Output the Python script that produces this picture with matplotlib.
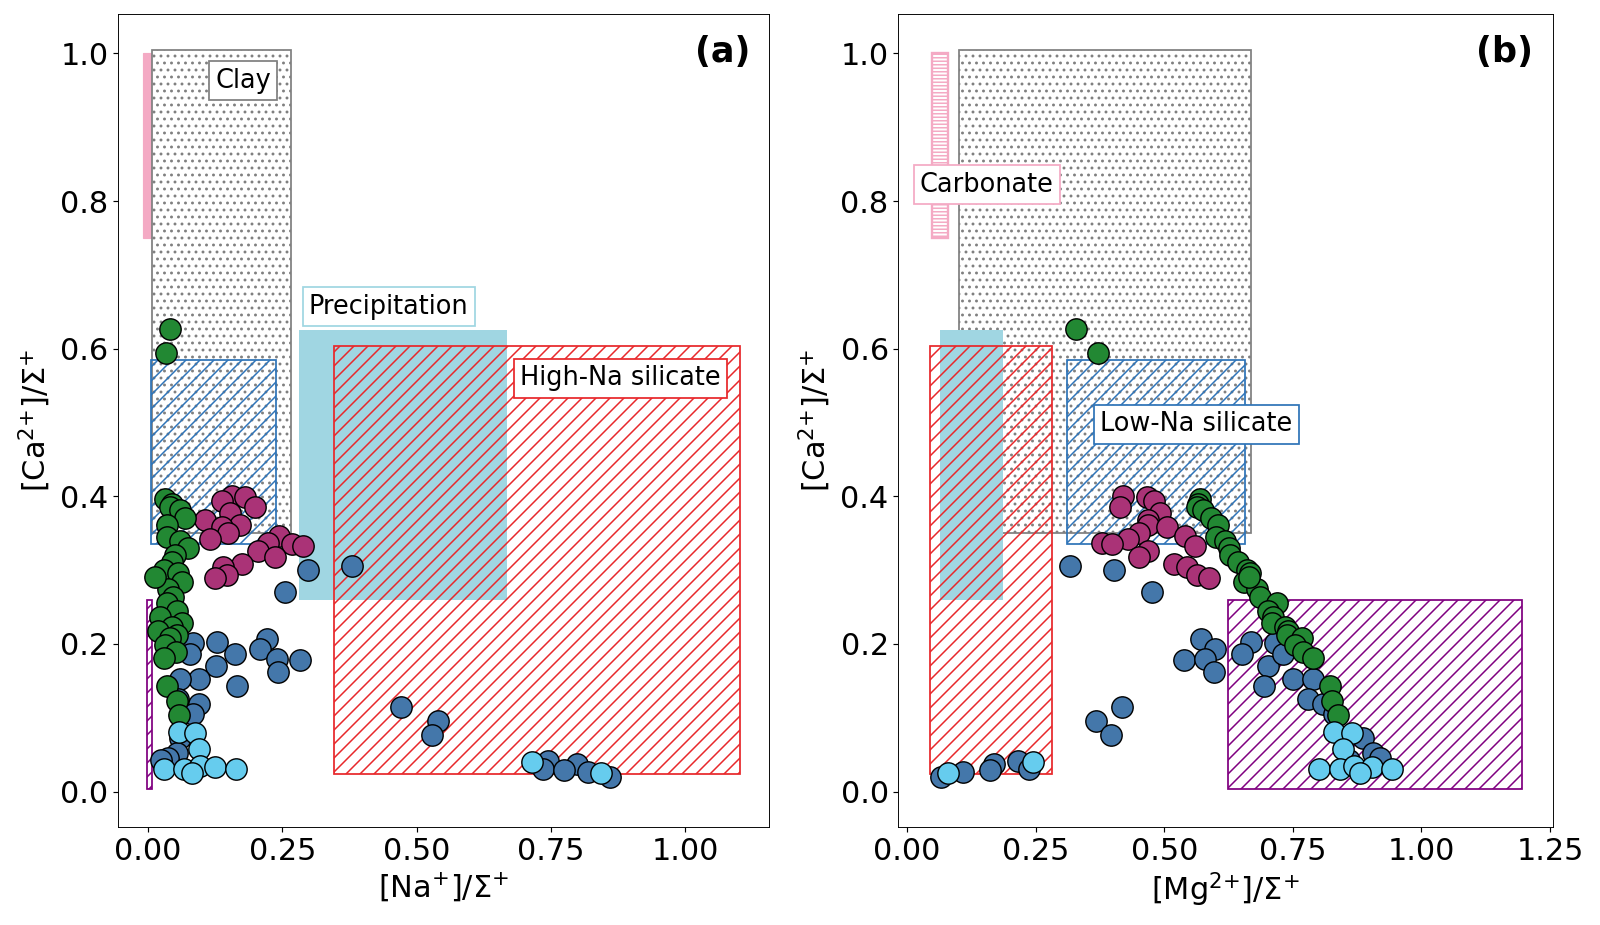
import matplotlib
matplotlib.use('Agg')
import matplotlib.pyplot as plt
from matplotlib.patches import Rectangle

# ---------------- data ----------------
# steel-blue samples: Na, Mg, Ca fractions
blue_na = [0.745, 0.799, 0.735, 0.775, 0.818, 0.860,
           0.471, 0.540, 0.529, 0.379, 0.297, 0.255,
           0.221, 0.208, 0.283, 0.240, 0.241, 0.129, 0.162, 0.127, 0.165,
           0.084, 0.078, 0.094, 0.060, 0.056, 0.094, 0.084, 0.060, 0.053, 0.038, 0.025]
blue_mg = [0.216, 0.168, 0.236, 0.161, 0.109, 0.066,
           0.417, 0.367, 0.396, 0.317, 0.403, 0.476,
           0.571, 0.599, 0.539, 0.579, 0.597, 0.668, 0.651, 0.702, 0.693,
           0.715, 0.731, 0.751, 0.790, 0.780, 0.809, 0.830, 0.887, 0.906, 0.920, 0.860]
blue_ca = [0.041, 0.037, 0.030, 0.029, 0.027, 0.020,
           0.114, 0.095, 0.076, 0.306, 0.300, 0.271,
           0.207, 0.193, 0.178, 0.180, 0.162, 0.202, 0.187, 0.170, 0.143,
           0.201, 0.186, 0.152, 0.153, 0.125, 0.118, 0.105, 0.072, 0.052, 0.045, 0.043]

# magenta samples
mag_na = [0.156, 0.181, 0.137, 0.199, 0.153, 0.106, 0.171, 0.137, 0.149, 0.243,
          0.115, 0.224, 0.267, 0.289, 0.205, 0.236, 0.174, 0.140, 0.146, 0.125]
mag_mg = [0.419, 0.466, 0.480, 0.414, 0.492, 0.469, 0.469, 0.505, 0.450, 0.540,
          0.430, 0.378, 0.398, 0.560, 0.469, 0.450, 0.518, 0.544, 0.563, 0.586]
mag_ca = [0.401, 0.399, 0.394, 0.385, 0.377, 0.368, 0.361, 0.359, 0.350, 0.346,
          0.342, 0.337, 0.335, 0.333, 0.326, 0.318, 0.308, 0.304, 0.294, 0.289]

# green samples
green_na = [0.040, 0.034,
            0.032, 0.044, 0.040, 0.060, 0.069, 0.035, 0.035, 0.060, 0.075, 0.050,
            0.044, 0.029, 0.055, 0.063, 0.038, 0.047, 0.035, 0.053, 0.022, 0.063,
            0.045, 0.019, 0.053, 0.040, 0.032, 0.052, 0.029, 0.035, 0.053, 0.058, 0.013]
green_mg = [0.329, 0.371,
            0.570, 0.566, 0.563, 0.576, 0.590, 0.605, 0.600, 0.618, 0.625, 0.628,
            0.644, 0.660, 0.667, 0.654, 0.680, 0.686, 0.719, 0.702, 0.712, 0.709,
            0.735, 0.740, 0.738, 0.767, 0.755, 0.770, 0.790, 0.822, 0.826, 0.838, 0.664]
green_ca = [0.627, 0.594,
            0.397, 0.390, 0.386, 0.381, 0.370, 0.361, 0.345, 0.339, 0.330, 0.320,
            0.311, 0.300, 0.296, 0.284, 0.275, 0.264, 0.255, 0.244, 0.237, 0.228,
            0.223, 0.217, 0.212, 0.208, 0.199, 0.189, 0.181, 0.143, 0.122, 0.104, 0.291]

# light-blue samples
lb_na = [0.058, 0.087, 0.095, 0.030, 0.066, 0.097, 0.125, 0.164, 0.081, 0.715, 0.843]
lb_mg = [0.829, 0.864, 0.847, 0.800, 0.842, 0.868, 0.903, 0.942, 0.880, 0.245, 0.080]
lb_ca = [0.081, 0.079, 0.057, 0.030, 0.031, 0.035, 0.033, 0.030, 0.025, 0.040, 0.025]

# end-member regions [x0, x1, y0, y1]
carb_a = [-0.010, 0.010, 0.75, 1.0]
carb_b = [0.049, 0.079, 0.75, 1.0]
clay_a = [0.007, 0.266, 0.35, 1.005]
clay_b = [0.101, 0.669, 0.35, 1.005]
precip_a = [0.280, 0.668, 0.26, 0.625]
precip_b = [0.064, 0.187, 0.26, 0.625]
highna_a = [0.346, 1.102, 0.024, 0.603]
highna_b = [0.044, 0.282, 0.024, 0.603]
lowna_a = [0.005, 0.238, 0.335, 0.585]
lowna_b = [0.310, 0.657, 0.335, 0.585]
evap_a = [-0.002, 0.008, 0.003, 0.26]
evap_b = [0.623, 1.196, 0.003, 0.26]

xticks_a = [0.0, 0.25, 0.5, 0.75, 1.0]
xticks_b = [0.0, 0.25, 0.5, 0.75, 1.0, 1.25]
yticks = [0.0, 0.2, 0.4, 0.6, 0.8, 1.0]

# ---------------- style ----------------
C_BLUE = '#4477AA'
C_MAG = '#AA3377'
C_GREEN = '#228833'
C_LB = '#66CCEE'
C_RED = '#E8282B'
C_LOWNA = '#2F74B8'
C_PRECIP = '#A0D6E2'
C_PINK = '#F4AAC4'
C_PURPLE = '#800080'
C_CLAY = 'gray'

plt.rcParams['hatch.linewidth'] = 1.3
plt.rcParams['font.family'] = ['DejaVu Sans']
plt.rcParams['mathtext.fontset'] = 'dejavusans'

DPI = 84
fig = plt.figure(figsize=(1600 / DPI, 925 / DPI), dpi=DPI)
ax_a = fig.add_axes([0.0736, 0.1056, 0.4073, 0.8789])
ax_b = fig.add_axes([0.5613, 0.1056, 0.4094, 0.8789])


def rect(ax, r, **kw):
    ax.add_patch(Rectangle((r[0], r[2]), r[1] - r[0], r[3] - r[2], **kw))


def label(ax, x, y, s, ec):
    ax.text(x, y, s, fontsize=22, ha='center', va='center', zorder=20,
            bbox=dict(boxstyle='square,pad=0.25', fc='white', ec=ec, lw=1.5))


def draw(ax, carb, clay, precip, highna, lowna, evap, carb_solid):
    if carb_solid:
        rect(ax, carb, fc=C_PINK, ec=C_PINK, lw=1.0, zorder=1)
    else:
        rect(ax, carb, fc='white', ec=C_PINK, hatch='----', lw=2.0, zorder=1)
    rect(ax, clay, fc='white', ec=C_CLAY, hatch='..', lw=1.5, zorder=2)
    rect(ax, precip, fc=C_PRECIP, ec='none', lw=0, zorder=3)
    rect(ax, highna, fc='none', ec=C_RED, hatch='//', lw=1.5, zorder=4)
    rect(ax, lowna, fc='none', ec=C_LOWNA, hatch='//', lw=1.5, zorder=5)
    rect(ax, evap, fc='none', ec=C_PURPLE, hatch='//', lw=1.5, zorder=5)


draw(ax_a, carb_a, clay_a, precip_a, highna_a, lowna_a, evap_a, True)
draw(ax_b, carb_b, clay_b, precip_b, highna_b, lowna_b, evap_b, False)

S = 335
for ax, xb, xm, xg, xl in [(ax_a, blue_na, mag_na, green_na, lb_na),
                           (ax_b, blue_mg, mag_mg, green_mg, lb_mg)]:
    ax.scatter(xb, blue_ca, s=S, c=C_BLUE, edgecolors='black', linewidths=1.2, zorder=10)
    ax.scatter(xm, mag_ca, s=S, c=C_MAG, edgecolors='black', linewidths=1.2, zorder=11)
    ax.scatter(xg, green_ca, s=S, c=C_GREEN, edgecolors='black', linewidths=1.2, zorder=12)
    ax.scatter(xl, lb_ca, s=S, c=C_LB, edgecolors='black', linewidths=1.2, zorder=13)

label(ax_a, 0.177, 0.963, 'Clay', C_CLAY)
label(ax_a, 0.448, 0.657, 'Precipitation', C_PRECIP)
label(ax_a, 0.879, 0.560, 'High-Na silicate', C_RED)
label(ax_b, 0.155, 0.822, 'Carbonate', C_PINK)
label(ax_b, 0.562, 0.4975, 'Low-Na silicate', C_LOWNA)

LBL = 26
ax_a.set_xlim(-0.0564, 1.1565)
ax_b.set_xlim(-0.0177, 1.256)
for ax in (ax_a, ax_b):
    ax.set_ylim(-0.0485, 1.053)
    ax.set_yticks(yticks)
    ax.set_yticklabels([f'{v:.1f}' for v in yticks])
    ax.tick_params(labelsize=26, length=4.5, width=1.0)
    ax.set_ylabel(r'[Ca$^{2{+}}$]/$\Sigma^{{+}}$', fontsize=LBL, labelpad=6)
ax_a.set_xticks(xticks_a)
ax_a.set_xticklabels([f'{v:.2f}' for v in xticks_a])
ax_b.set_xticks(xticks_b)
ax_b.set_xticklabels([f'{v:.2f}' for v in xticks_b])
ax_a.set_xlabel(r'[Na$^{{+}}$]/$\Sigma^{{+}}$', fontsize=LBL, labelpad=4)
ax_b.set_xlabel(r'[Mg$^{2{+}}$]/$\Sigma^{{+}}$', fontsize=LBL, labelpad=4)

ax_a.text(0.97, 0.975, '(a)', transform=ax_a.transAxes, ha='right', va='top',
          fontsize=30, fontweight='bold', zorder=30)
ax_b.text(0.97, 0.975, '(b)', transform=ax_b.transAxes, ha='right', va='top',
          fontsize=30, fontweight='bold', zorder=30)

fig.savefig('out.png', dpi=DPI)
